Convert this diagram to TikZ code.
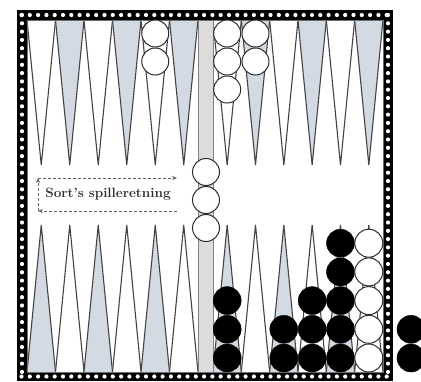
\documentclass[tikz,border=0pt]{standalone}
\usetikzlibrary{positioning,arrows.meta}
\definecolor{ink}{HTML}{2E2E2E}
\definecolor{ptshade}{HTML}{D3DAE3}
\definecolor{barfill}{HTML}{DCDCDC}
\tikzset{
  >=Stealth,
  point/.style={draw=ink!90, line width=1.1pt, line join=miter},
  shadedpt/.style={point, fill=ptshade},
  plainpt/.style={point, fill=white},
  wchk/.style={circle, draw=ink, line width=1pt, fill=white, minimum size=27pt, inner sep=0pt},
  bchk/.style={circle, draw=black, fill=black, minimum size=28pt, inner sep=0pt},
  dirline/.style={dash pattern=on 3pt off 2pt, line width=0.8pt, draw=ink!75},
}
% x / count of checkers per point
\def\topWhite{a/155.25/2, b/227.2/3, c/255.5/2}
\def\botBlack{a/227.2/3, b/283.8/2, c/312.2/3, d/340.5/5, e/411/2}
\def\botWhite{a/368.8/5}
\begin{document}
\begin{tikzpicture}[x=1pt, y=-1pt]
  \useasboundingbox (0,0) rectangle (421,381);
  \clip (0,0) rectangle (421,381);
  % frame with dots
  \fill[black] (17,10) rectangle (393,381);
  \fill[white] (27,20) rectangle (383,372);
  \foreach \x in {21.5,29.8,...,390} {
    \fill[white] (\x,15) circle (2.1);
    \fill[white] (\x,376.5) circle (2.1);
  }
  \foreach \y in {15,23.3,...,380} {
    \fill[white] (22,\y) circle (2.1);
    \fill[white] (388,\y) circle (2.1);
  }
  % points
  \foreach \i in {0,...,5} {
    \pgfmathsetmacro{\xl}{27+\i*28.5}
    \pgfmathsetmacro{\xr}{213+\i*28.33}
    \ifodd\i
      \def\tstyle{shadedpt}\def\bstyle{plainpt}
    \else
      \def\tstyle{plainpt}\def\bstyle{shadedpt}
    \fi
    \draw[\tstyle] (\xl,20) -- ({\xl+14.25},165) -- ({\xl+28.5},20);
    \draw[\tstyle] (\xr,20) -- ({\xr+14.17},165) -- ({\xr+28.33},20);
    \draw[\bstyle] (\xl,372) -- ({\xl+14.25},225) -- ({\xl+28.5},372);
    \draw[\bstyle] (\xr,372) -- ({\xr+14.17},225) -- ({\xr+28.33},372);
  }
  % bar
  \fill[barfill] (198,20) rectangle (213,372);
  \draw[ink!60, line width=0.6pt] (198,20) -- (198,372) (213,20) -- (213,372);
  \draw[ink!70, line width=0.6pt] (27,20) rectangle (383,372);
  % checkers
  \foreach \n/\x/\c in \topWhite {
    \foreach \k in {1,...,\c} {
      \pgfmathsetmacro{\cy}{33.5+(\k-1)*28}
      \node[wchk] (wt\n\k) at (\x,\cy) {};
    }
  }
  \foreach \k/\y in {1/172, 2/200, 3/228}
    \node[wchk] (wbar\k) at (206,\y) {};
  \foreach \n/\x/\c in \botBlack {
    \foreach \k in {1,...,\c} {
      \pgfmathsetmacro{\cy}{358-(\k-1)*28.7}
      \node[bchk] (bb\n\k) at (\x,\cy) {};
    }
  }
  \foreach \n/\x/\c in \botWhite {
    \foreach \k in {1,...,\c} {
      \pgfmathsetmacro{\cy}{358-(\k-1)*28.7}
      \node[wchk, minimum size=28pt] (wb\n\k) at (\x,\cy) {};
    }
  }
  % direction of play
  \node[font=\fontsize{13.5}{15}\selectfont\bfseries, text=ink] (dirlabel) at (108,194) {Sort's spilleretning};
  \coordinate (dtl) at (38,178);
  \coordinate (dtr) at (177,178);
  \coordinate (dbl) at (38,211);
  \coordinate (dbr) at (177,211);
  \draw[dirline, -{Stealth[length=5pt,width=4pt]}] (dbr) -- (dbl);
  \draw[dirline, -{Stealth[length=5pt,width=4pt]}] (dbl) -- (dtl);
  \draw[dirline, -{Stealth[length=5pt,width=4pt]}] (dtl) -- (dtr);
\end{tikzpicture}
\end{document}
